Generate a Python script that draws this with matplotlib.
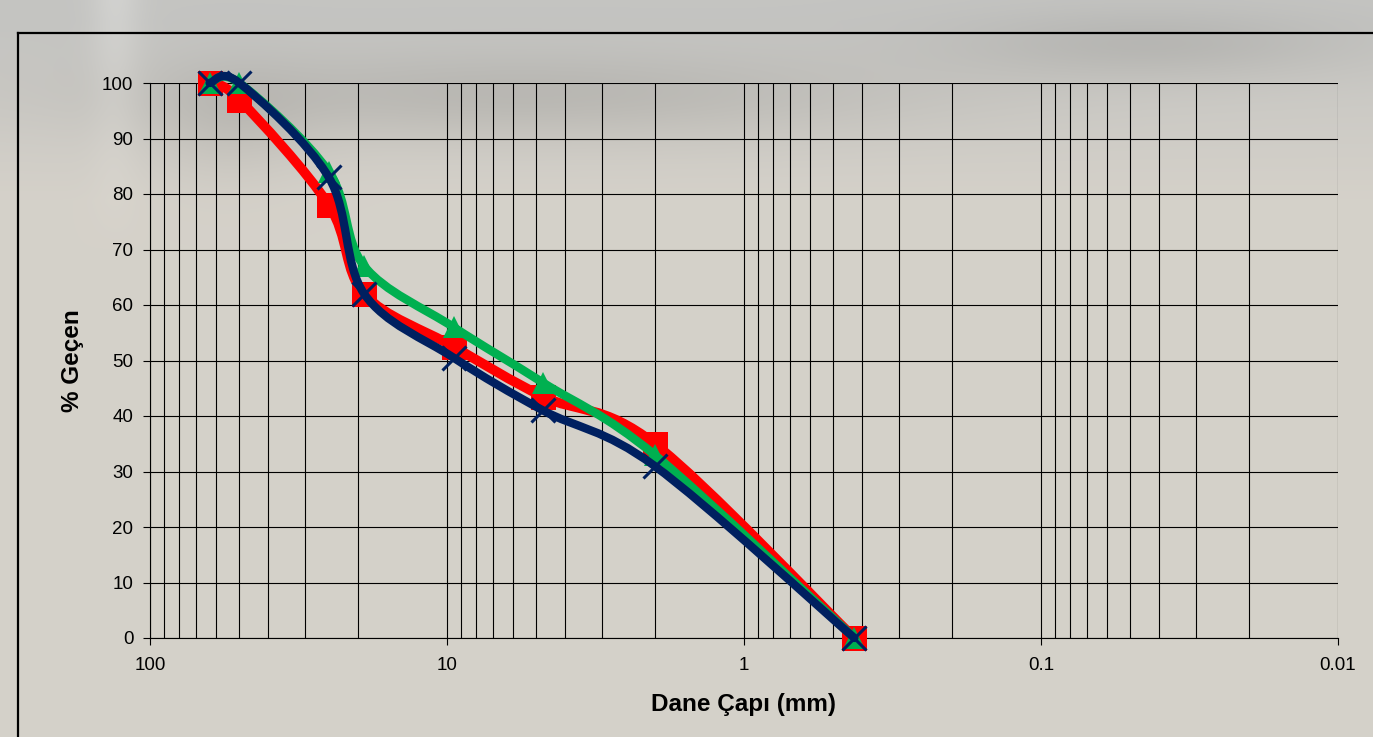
import numpy as np
import matplotlib
matplotlib.use("Agg")
from matplotlib import pyplot as plt
from matplotlib.path import Path
from matplotlib.patches import PathPatch
from matplotlib.lines import Line2D

plt.rcParams['font.family'] = ['Liberation Sans', 'DejaVu Sans']

# elek açıklıkları (mm) ve % geçen değerleri
sieve = [63, 50, 25, 19, 9.5, 4.75, 2, 0.425]
red_pass = [100, 97, 78, 62, 52.5, 43.5, 35, 0]
green_pass = [100, 100, 84, 67, 56, 46, 33, 0]
navy_pass = [100, 100, 83, 62, 50.5, 41, 31, 0]
xticks = [100, 10, 1, 0.1, 0.01]
xticklabels = ["100", "10", "1", "0.1", "0.01"]

W, H = 1373, 737
fig = plt.figure(figsize=(W / 100, H / 100), dpi=100)

# background: blurry grey photo at the top, beige below
bg = fig.add_axes([0, 0, 1, 1], zorder=-5)
bg.axis("off")
yy, xx = np.mgrid[0:H:2, 0:W:2]
base = np.array([0.835, 0.82, 0.79])
grey = np.array([0.77, 0.77, 0.76])
w = np.clip((yy - 20) / 180.0, 0, 1)[..., None]
img = grey * (1 - w) + base * w
dark = 0.07 * np.exp(-((xx - 520) / 380.0) ** 2 - ((yy - 95) / 45.0) ** 2)
dark += 0.06 * np.exp(-((xx - 1150) / 200.0) ** 2 - ((yy - 45) / 35.0) ** 2)
dark += 0.04 * np.exp(-((xx - 230) / 80.0) ** 2 - ((yy - 120) / 60.0) ** 2)
light = 0.05 * np.exp(-((xx - 115) / 25.0) ** 2) * np.clip(1 - yy / 250.0, 0, 1)
img = np.clip(img - dark[..., None] + light[..., None], 0, 1)
bg.imshow(img, aspect="auto", extent=[0, 1, 0, 1], interpolation="bilinear")
bg.set_xlim(0, 1)
bg.set_ylim(0, 1)

# outer chart frame, runs off the right and bottom edges
fig.add_artist(Line2D([18 / W, 18 / W], [0, 1 - 33 / H], color="black", lw=1.6))
fig.add_artist(Line2D([18 / W, 1], [1 - 33 / H, 1 - 33 / H], color="black", lw=1.6))

ax = fig.add_axes([150 / W, 1 - 638 / H, (1338 - 150) / W, (638 - 83) / H])
ax.set_facecolor("none")
ax.set_xscale("log")
ax.set_xlim(100, 0.01)
ax.set_ylim(0, 100)
ax.set_yticks(np.arange(0, 101, 10))
ax.set_xticks(xticks)
ax.set_xticklabels(xticklabels)
ax.tick_params(axis="both", which="major", labelsize=13.5, length=5, width=0.8, direction="out")
ax.tick_params(axis="y", pad=7)
ax.tick_params(axis="x", pad=9)
ax.tick_params(axis="x", which="minor", length=0)
ax.grid(True, axis="y", which="major", color="black", lw=0.8)
ax.grid(True, axis="x", which="both", color="black", lw=0.8)
for s in ["top", "right"]:
    ax.spines[s].set_visible(False)
for s in ["left", "bottom"]:
    ax.spines[s].set_linewidth(0.8)
ax.set_axisbelow(True)

ax.set_xlabel("Dane Çapı (mm)", fontsize=17.5, fontweight="bold")
ax.set_ylabel("% Geçen", fontsize=17.5, fontweight="bold")
ax.xaxis.set_label_coords(0.5, -(693 - 638) / 555)
ax.yaxis.set_label_coords(-(150 - 84) / 1188, 0.5)


def smooth(x, y):
    # Excel-style smoothed line: cubic Bezier through points in screen space
    sx, sy = 297.5, 5.55
    P = np.column_stack([np.log10(x) * sx, np.array(y) * sy])
    n = len(P)
    verts = [P[0]]
    codes = [Path.MOVETO]
    for i in range(n - 1):
        p0 = P[max(i - 1, 0)]
        p1, p2 = P[i], P[i + 1]
        p3 = P[min(i + 2, n - 1)]
        c1 = p1 + (p2 - p0) / 6
        c2 = p2 - (p3 - p1) / 6
        verts += [c1, c2, p2]
        codes += [Path.CURVE4] * 3
    V = np.array(verts)
    V = np.column_stack([10 ** (V[:, 0] / sx), V[:, 1] / sy])
    return Path(V, codes)


series = [
    (red_pass, "#ff0000", 7.0, dict(marker="s", ms=18, mfc="#ff0000", mec="#ff0000", mew=0)),
    (green_pass, "#00b050", 6.2, dict(marker="^", ms=16, mfc="#00b050", mec="#00b050", mew=0)),
    (navy_pass, "#002060", 6.0, dict(marker="x", ms=17, mec="#002060", mew=2.2)),
]
for i, (vals, col, lw, mk) in enumerate(series):
    ax.add_patch(PathPatch(smooth(sieve, vals), fill=False, edgecolor=col, lw=lw,
                           capstyle="round", joinstyle="round", zorder=3 + 2 * i, clip_on=False))
    ax.plot(sieve, vals, ls="none", zorder=4 + 2 * i, clip_on=False, **mk)

fig.savefig("out.png", dpi=100)
